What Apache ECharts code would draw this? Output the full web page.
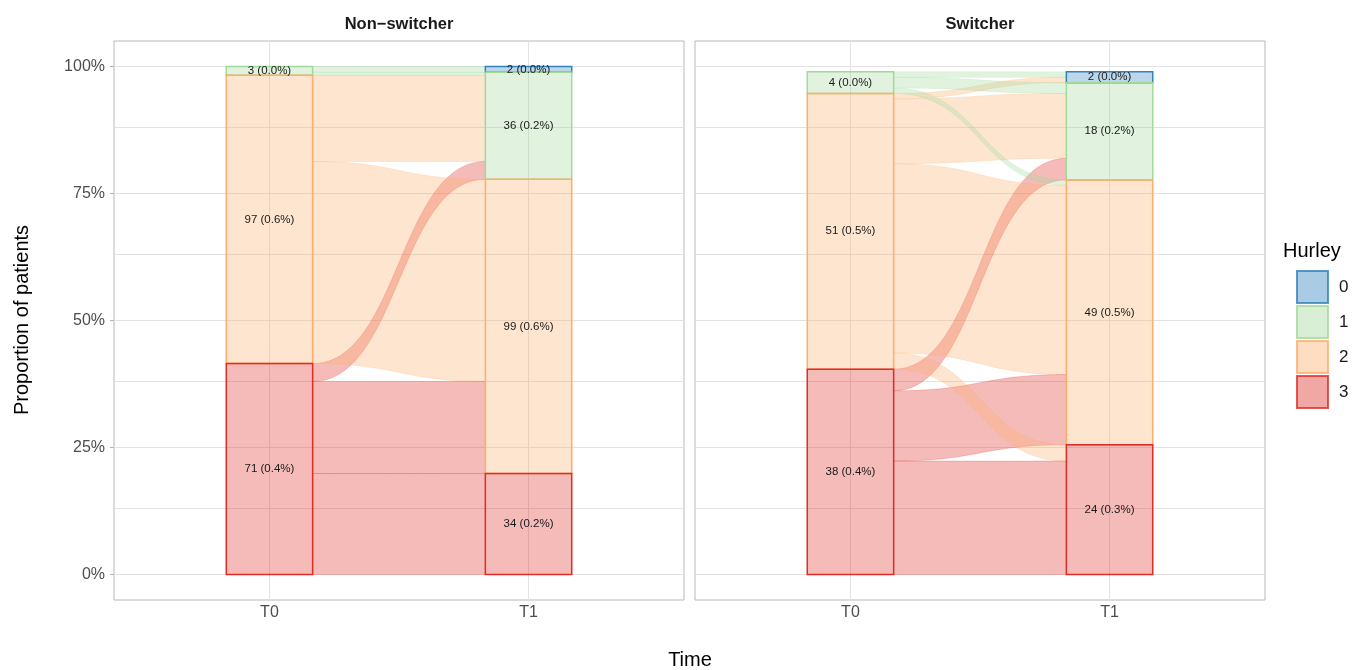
<!DOCTYPE html>
<html>
<head>
<meta charset="utf-8">
<script src="https://cdn.jsdelivr.net/npm/echarts@6/dist/echarts.min.js"></script>
<style>
html,body{margin:0;padding:0;background:#fff;}
#chart{width:1357px;height:670px;}
</style>
</head>
<body>
<div id="chart"></div>
<script>
// ---------- data ----------
const timeLabels = ['T0', 'T1'];
const hurleyLevels = ['0', '1', '2', '3'];
const hurleyColors = ['#3182bd', '#a1d99b', '#fdae6b', '#de2d26'];
const panelNames = ['Non\u2212switcher', 'Switcher'];
const panelTotals = [171, 94];
// stratum counts per Hurley level (0,1,2,3)
const nonSwitcherT0 = [0, 3, 97, 71];
const nonSwitcherT1 = [2, 36, 99, 34];
const switcherT0 = [0, 4, 51, 38];
const switcherT1 = [2, 18, 49, 24];
// flows: [level at T0, level at T1, patients]
const nonSwitcherFlows = [[1,0,2],[1,1,1],[2,1,29],[2,2,68],[3,1,6],[3,2,31],[3,3,34]];
const switcherFlows = [[1,0,1],[1,1,2],[1,2,1],[2,0,1],[2,1,12],[2,2,35],[2,3,3],[3,1,4],[3,2,13],[3,3,21]];
// axis ticks
const yTickValues = [0, 0.25, 0.5, 0.75, 1];
const yTickLabels = ['0%', '25%', '50%', '75%', '100%'];
const yGridValues = [0, 0.125, 0.25, 0.375, 0.5, 0.625, 0.75, 0.875, 1];
const xTickValues = [1, 2];

// ---------- helpers ----------
const FONT = '"Liberation Sans", Arial, sans-serif';
const ALPHA = 0.32;
const halfW = 1 / 6;
function rgba(hex, a) {
  const n = parseInt(hex.slice(1), 16);
  return 'rgba(' + ((n >> 16) & 255) + ',' + ((n >> 8) & 255) + ',' + (n & 255) + ',' + a + ')';
}
function stratumBounds(counts, total) {
  const res = [];
  for (let k = 0; k < counts.length; k++) {
    let below = 0;
    for (let j = k + 1; j < counts.length; j++) below += counts[j];
    res.push([below / total, (below + counts[k]) / total]);
  }
  return res;
}
function buildPanel(t0, t1, flows, total) {
  const b0 = stratumBounds(t0, total), b1 = stratumBounds(t1, total);
  const strata = [];
  [t0, t1].forEach((counts, ti) => {
    const b = ti === 0 ? b0 : b1;
    counts.forEach((c, k) => {
      if (c > 0) strata.push([ti + 1, b[k][0], b[k][1], k, c, total]);
    });
  });
  const outTop = b0.map(v => v[1]);
  const inTop = b1.map(v => v[1]);
  const out = flows.slice().sort((a, b) => a[0] - b[0] || a[1] - b[1]);
  const outPos = {};
  out.forEach(f => {
    const h = f[2] / total;
    outPos[f[0] + '_' + f[1]] = [outTop[f[0]] - h, outTop[f[0]]];
    outTop[f[0]] -= h;
  });
  const inc = flows.slice().sort((a, b) => a[1] - b[1] || a[0] - b[0]);
  const flowData = [];
  inc.forEach(f => {
    const h = f[2] / total;
    const a = outPos[f[0] + '_' + f[1]];
    flowData.push([f[0], f[1], a[0], a[1], inTop[f[1]] - h, inTop[f[1]]]);
    inTop[f[1]] -= h;
  });
  return { strata, flowData };
}
const panels = [
  buildPanel(nonSwitcherT0, nonSwitcherT1, nonSwitcherFlows, panelTotals[0]),
  buildPanel(switcherT0, switcherT1, switcherFlows, panelTotals[1])
];

function bez(p0, p1, t) {
  const dx = p1[0] - p0[0];
  const c0 = [p0[0] + 0.5 * dx, p0[1]], c1 = [p1[0] - 0.5 * dx, p1[1]];
  const u = 1 - t;
  return [
    u*u*u*p0[0] + 3*u*u*t*c0[0] + 3*u*t*t*c1[0] + t*t*t*p1[0],
    u*u*u*p0[1] + 3*u*u*t*c0[1] + 3*u*t*t*c1[1] + t*t*t*p1[1]
  ];
}
function renderFlow(params, api) {
  const from = api.value(0);
  const a0 = api.value(2), a1 = api.value(3), b0 = api.value(4), b1 = api.value(5);
  const xA = 1 + halfW, xB = 2 - halfW;
  const pAt = api.coord([xA, a1]), pBt = api.coord([xB, b1]);
  const pAb = api.coord([xA, a0]), pBb = api.coord([xB, b0]);
  const pts = [];
  const N = 40;
  for (let i = 0; i <= N; i++) pts.push(bez(pAt, pBt, i / N));
  for (let i = N; i >= 0; i--) pts.push(bez(pAb, pBb, i / N));
  const col = hurleyColors[from];
  return {
    type: 'polygon',
    shape: { points: pts },
    style: { fill: rgba(col, ALPHA), stroke: rgba(col, 0.3), lineWidth: 0.7 }
  };
}
function renderStratum(params, api) {
  const t = api.value(0), y0 = api.value(1), y1 = api.value(2), k = api.value(3), c = api.value(4), tot = api.value(5);
  const p0 = api.coord([t - halfW, y1]), p1 = api.coord([t + halfW, y0]);
  const col = hurleyColors[k];
  const label = c + ' (' + (c / tot).toFixed(1) + '%)';
  return {
    type: 'group',
    children: [
      {
        type: 'rect',
        shape: { x: p0[0], y: p0[1], width: p1[0] - p0[0], height: p1[1] - p0[1] },
        style: { fill: rgba(col, ALPHA), stroke: col, lineWidth: 1.5 }
      },
      {
        type: 'text',
        x: (p0[0] + p1[0]) / 2,
        y: (p0[1] + p1[1]) / 2,
        z2: 10,
        style: {
          text: label, align: 'center', verticalAlign: 'middle',
          font: '11.5px ' + FONT, fill: '#1a1a1a'
        }
      }
    ]
  };
}

const grids = [
  { left: 114, top: 41, width: 570, height: 559 },
  { left: 695, top: 41, width: 570, height: 559 }
].map(g => Object.assign(g, { show: true, borderColor: '#b8b8b8', borderWidth: 1, backgroundColor: 'transparent', containLabel: false }));

const xAxes = [0, 1].map(i => ({
  type: 'value', gridIndex: i, min: 0.4, max: 2.6,
  axisLine: { show: false },
  splitLine: { show: false },
  axisTick: { show: true, customValues: xTickValues, length: 4, lineStyle: { color: '#b3b3b3' } },
  axisLabel: {
    show: true, customValues: xTickValues, margin: 5,
    formatter: v => timeLabels[Math.round(v) - 1] || '',
    color: '#4d4d4d', fontSize: 16, fontFamily: FONT
  }
}));
const yAxes = [0, 1].map(i => ({
  type: 'value', gridIndex: i, min: -0.05, max: 1.05,
  axisLine: { show: false },
  splitLine: { show: false },
  axisTick: { show: i === 0, customValues: yTickValues, length: 4, lineStyle: { color: '#b3b3b3' } },
  axisLabel: {
    show: i === 0, customValues: yTickValues, margin: 9,
    formatter: v => { const idx = yTickValues.findIndex(t => Math.abs(t - v) < 1e-9); return idx >= 0 ? yTickLabels[idx] : ''; },
    color: '#4d4d4d', fontSize: 16, fontFamily: FONT
  }
}));

const series = [];
[0, 1].forEach(i => {
  series.push({
    type: 'scatter', xAxisIndex: i, yAxisIndex: i, data: [], z: 1, silent: true,
    markLine: {
      z: 1, silent: true, symbol: 'none', animation: false,
      label: { show: false },
      lineStyle: { color: '#e2e2e2', width: 1, type: 'solid' },
      data: xTickValues.map(v => ({ xAxis: v })).concat(yGridValues.map(v => ({ yAxis: v })))
    }
  });
  series.push({
    type: 'custom', xAxisIndex: i, yAxisIndex: i, z: 2, silent: true, animation: false,
    renderItem: renderFlow, data: panels[i].flowData, clip: false
  });
  series.push({
    type: 'custom', xAxisIndex: i, yAxisIndex: i, z: 3, silent: true, animation: false,
    renderItem: renderStratum, data: panels[i].strata, clip: false
  });
});
hurleyLevels.forEach((lv, k) => {
  series.push({
    name: lv, type: 'scatter', xAxisIndex: 0, yAxisIndex: 0, data: [],
    itemStyle: { color: rgba(hurleyColors[k], 0.52), borderColor: hurleyColors[k], borderWidth: 2 }
  });
});

const option = {
  animation: false,
  textStyle: { fontFamily: FONT },
  grid: grids,
  xAxis: xAxes,
  yAxis: yAxes,
  legend: {
    data: hurleyLevels,
    orient: 'vertical', left: 1296, top: 270, padding: 0,
    itemWidth: 31, itemHeight: 32, itemGap: 1, icon: 'rect',
    selectedMode: false,
    textStyle: { fontSize: 17, color: '#1a1a1a', fontFamily: FONT, padding: [0, 0, 0, 6] }
  },
  graphic: [
    { type: 'text', x: 399, y: 24, style: { text: panelNames[0], align: 'center', verticalAlign: 'middle', font: 'bold 16.5px ' + FONT, fill: '#1a1a1a' } },
    { type: 'text', x: 980, y: 24, style: { text: panelNames[1], align: 'center', verticalAlign: 'middle', font: 'bold 16.5px ' + FONT, fill: '#1a1a1a' } },
    { type: 'text', x: 22, y: 320, rotation: Math.PI / 2, style: { text: 'Proportion of patients', align: 'center', verticalAlign: 'middle', font: '20px ' + FONT, fill: '#000' } },
    { type: 'text', x: 690, y: 660, style: { text: 'Time', align: 'center', verticalAlign: 'middle', font: '20px ' + FONT, fill: '#000' } },
    { type: 'text', x: 1283, y: 251, style: { text: 'Hurley', align: 'left', verticalAlign: 'middle', font: '20px ' + FONT, fill: '#000' } }
  ],
  series: series
};
const chart = echarts.init(document.getElementById('chart'), null, { renderer: 'canvas' });
chart.setOption(option);
</script>
</body>
</html>
